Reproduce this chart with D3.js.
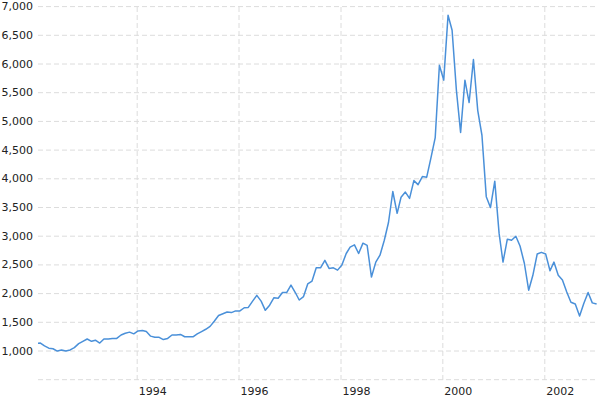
<!DOCTYPE html>
<html>
<head>
<meta charset="utf-8">
<script src="https://cdn.jsdelivr.net/npm/d3@7"></script>
<style>
  body { margin: 0; background: #fff; }
  svg { display: block; }
  .grid line { stroke: #dcdcdc; stroke-dasharray: 5,3; }
  .tick text { fill: #222; font-size: 11px; font-family: "DejaVu Sans", Verdana, sans-serif; }
</style>
</head>
<body>
<svg id="chart" width="600" height="397"></svg>
<script>
// monthly values, Jan 1992 .. Jan 2003
const startMonth = "1992-01"
const values = [
  1120,1130,1080,1040,1030,990,1010,990,1010,1050,1120,1160,
  1200,1160,1180,1130,1200,1200,1210,1210,1270,1300,1320,1290,
  1340,1350,1330,1250,1230,1230,1190,1210,1270,1270,1280,1240,
  1240,1240,1290,1330,1370,1420,1510,1610,1640,1670,1660,1690,
  1690,1745,1750,1860,1960,1860,1700,1790,1920,1910,2010,2010,
  2140,2010,1880,1940,2160,2210,2440,2440,2570,2430,2440,2400,
  2490,2690,2800,2840,2690,2870,2830,2280,2540,2660,2920,3230,
  3770,3390,3670,3760,3650,3960,3890,4030,4020,4350,4710,5970,
  5710,6840,6580,5530,4800,5710,5320,6070,5180,4750,3680,3490,
  3950,3040,2540,2940,2920,2990,2820,2520,2050,2310,2680,2710,
  2680,2390,2540,2310,2230,2020,1840,1810,1600,1820,2010,1830,
  1810
]
const yTicks = [500,1000,1500,2000,2500,3000,3500,4000,4500,5000,5500,6000,6500,7000]
const xTickYears = [1994,1996,1998,2000,2002]

const plotLeft = 38, plotRight = 597, plotTop = 6, plotBottom = 380

const t0 = d3.timeParse("%Y-%m")(startMonth)
const data = values.map((v,i)=>({date: d3.timeDay.offset(d3.timeMonth.offset(t0, i), 10), value: v}))

const x = d3.scaleTime()
  .domain([new Date(1994,0,1), new Date(2002,0,1)])
  .range([136.7, 544.3])
const y = d3.scaleLinear()
  .domain([500, 7000])
  .range([379.2, 6.1])

const svg = d3.select('#chart')

svg.append('defs').append('clipPath').attr('id','plot')
  .append('rect').attr('x',plotLeft).attr('y',0).attr('width',600-plotLeft).attr('height',plotBottom)

// horizontal grid + labels
svg.append('g')
  .attr('class','grid')
  .attr('transform','translate('+plotLeft+',0)')
  .call(d3.axisLeft(y).tickValues(yTicks).tickSize(-(plotRight-plotLeft)).tickPadding(5)
    .tickFormat(d => d === 500 ? '' : d3.format(',')(d)))
  .call(g => g.select('.domain').remove())

// vertical grid + year labels (labels sit just right of the line)
svg.append('g')
  .attr('class','grid')
  .attr('transform','translate(0,'+plotBottom+')')
  .call(d3.axisBottom(x).tickValues(xTickYears.map(yr => new Date(yr,0,1)))
    .tickSize(-(plotBottom-plotTop)).tickPadding(7).tickFormat(d3.timeFormat('%Y')))
  .call(g => g.select('.domain').remove())
  .call(g => g.selectAll('.tick text').attr('text-anchor','start').attr('dx', 1.5))

const line = d3.line()
  .x(d => x(d.date))
  .y(d => y(d.value))

svg.append('path')
  .datum(data)
  .attr('clip-path','url(#plot)')
  .attr('fill','none')
  .attr('stroke','#4a90d9')
  .attr('stroke-width',1.5)
  .attr('stroke-linejoin','round')
  .attr('d', line)
</script>
</body>
</html>
